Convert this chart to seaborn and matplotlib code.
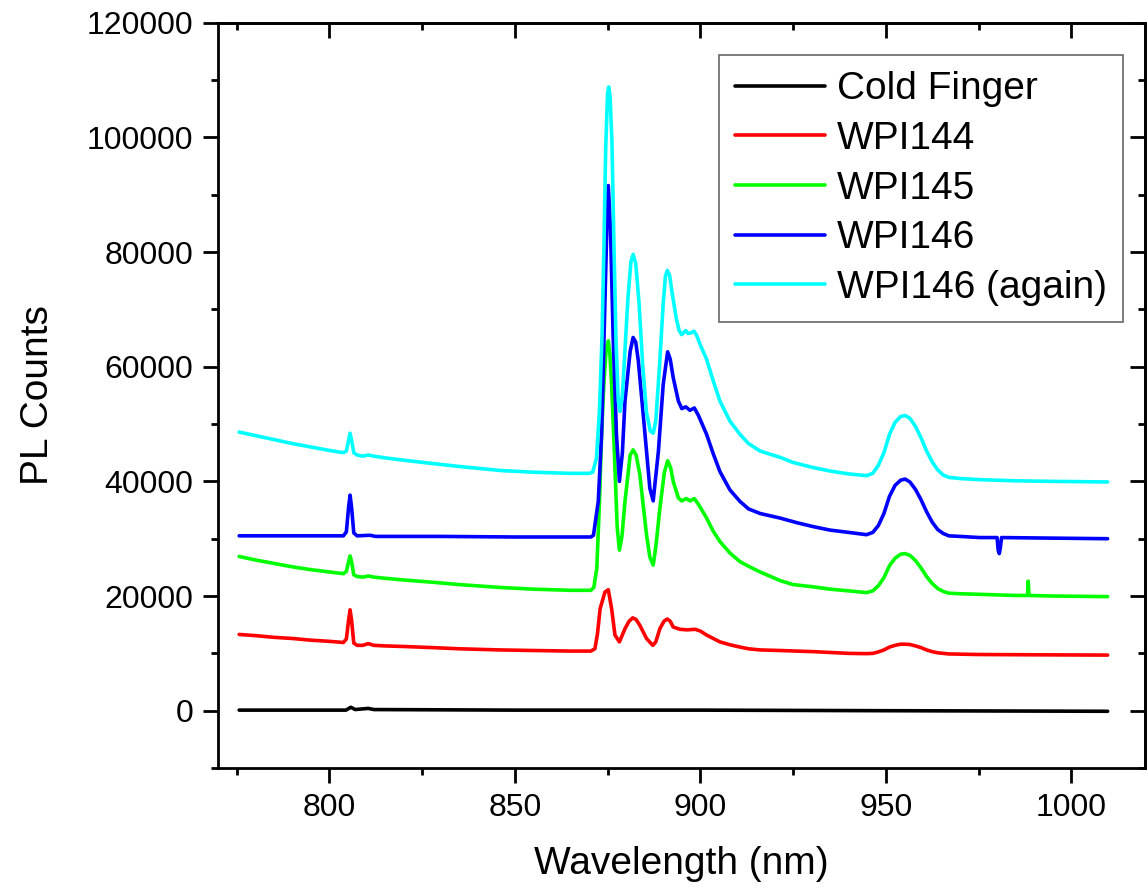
import matplotlib
matplotlib.use("Agg")
import matplotlib.pyplot as plt
from matplotlib.ticker import MultipleLocator, ScalarFormatter
import numpy as np
import pandas as pd
import seaborn as sns

# ---- spectra: wavelength (nm) and PL counts (thousands) per sample ----
cold_finger_nm = [775.7, 790, 804.5, 805.8, 807, 810.5, 812, 850, 900, 950, 1009.8]
cold_finger_k = [0.1, 0.1, 0.1, 0.6, 0.2, 0.4, 0.2, 0.1, 0.1, 0.0, -0.1]

wpi144_nm = [775.7, 780, 785, 790, 795, 800, 803.8, 804.6, 805.2, 805.6, 806.0, 806.6,
             807.5, 809, 810.5, 812, 815, 820, 828, 835, 846, 855, 865, 870.5, 871.6,
             872.3, 873.0, 874.3, 875.2, 876.1, 877.0, 878.2, 879.7, 880.8, 881.8,
             882.7, 883.7, 885.5, 887.2, 888.0, 889.1, 890.2, 891.1, 891.9, 892.7,
             894.5, 896.5, 898.6, 900.0, 901.7, 903.5, 905.3, 908, 910.7, 913, 916.1,
             921.5, 930.5, 940, 944.8, 946.5, 948, 949.5, 951, 952.5, 954, 955.2,
             956.5, 958, 959.5, 961, 962.5, 964, 965.5, 967, 975, 990, 1009.8]
wpi144_k = [13.3, 13.1, 12.8, 12.6, 12.3, 12.1, 11.9, 12.5, 15.8, 17.6, 15.8, 11.8,
            11.4, 11.4, 11.7, 11.4, 11.3, 11.2, 11.0, 10.8, 10.6, 10.5, 10.4, 10.4, 10.8,
            13.5, 17.8, 20.7, 21.1, 17.8, 13.2, 12.0, 14.3, 15.6, 16.2,
            15.9, 14.9, 12.6, 11.4, 12.0, 14.3, 15.6, 16.0, 15.6, 14.6,
            14.2, 14.1, 14.2, 13.9, 13.2, 12.6, 12.0, 11.5, 11.1, 10.8, 10.6,
            10.5, 10.3, 10.0, 9.95, 10.0, 10.25, 10.6, 11.1, 11.4, 11.6, 11.6,
            11.55, 11.3, 11.0, 10.6, 10.3, 10.1, 10.0, 9.9, 9.8, 9.75, 9.7]

wpi145_nm = [775.7, 780, 785, 790, 795, 800, 803.8, 804.6, 805.2, 805.6, 806.0, 806.6,
             807.5, 809, 810.5, 812, 815, 820, 828, 835, 846, 855, 865, 870.5, 871.3,
             872.1, 872.8, 873.4, 874.0, 874.6, 875.2, 875.6, 876.1, 876.6, 877.0,
             877.6, 878.2, 878.9, 879.7, 881.1, 881.9, 882.7, 883.7, 885.5, 886.4,
             887.3, 888.0, 889.1, 890.3, 891.2, 892.0, 892.7, 894.1, 895.0, 896.2,
             897.2, 898.4, 899.5, 901.7, 903.5, 905.3, 908, 910.7, 913, 916.1, 919,
             921.5, 925, 930.5, 935, 940, 944.8, 946.5, 948, 949.5, 951, 952.5, 954,
             955.2, 956.5, 958, 959.5, 961, 962.5, 964, 965.5, 967, 970, 975.3, 985,
             988.2, 988.4, 988.6, 995, 1009.8]
wpi145_k = [26.9, 26.3, 25.7, 25.1, 24.6, 24.2, 23.9, 24.3, 26.0, 27.0, 26.0, 23.7,
            23.4, 23.3, 23.5, 23.3, 23.1, 22.8, 22.4, 22.0, 21.5, 21.2, 21.0, 21.0, 21.5,
            24.8, 36.0, 48.2, 57.0, 62.7, 64.5, 62.5, 56.9, 49.0, 42.3,
            32.0, 28.0, 30.5, 36.5, 44.6, 45.5, 44.6, 41.2, 30.7, 26.8,
            25.4, 28.5, 35.3, 41.5, 43.6, 42.4, 40.0, 37.1, 36.6, 37.0,
            36.6, 37.0, 36.0, 33.6, 31.3, 29.5, 27.5, 26.0, 25.2, 24.2, 23.4,
            22.7, 22.0, 21.6, 21.2, 20.9, 20.6, 20.9, 21.8, 23.2, 25.3, 26.6, 27.3,
            27.4, 27.1, 26.2, 24.9, 23.4, 22.2, 21.3, 20.8, 20.5, 20.4, 20.3, 20.1,
            20.1, 22.6, 20.1, 20.0, 19.9]

wpi146_nm = [775.7, 790, 803.8, 804.6, 805.2, 805.6, 806.0, 806.6, 807.5, 811, 812.5,
             830, 850, 870.5, 871.2, 872.5, 873.4, 874.3, 874.8, 875.2, 875.8, 876.5,
             877.4, 878.2, 879.0, 879.7, 881.1, 881.9, 882.6, 883.3, 885.1, 886.4,
             887.3, 888.7, 890.0, 891.2, 891.9, 892.7, 894.1, 895.0, 896.1, 897.2,
             898.4, 899.5, 901.7, 903.5, 905.3, 908, 910.7, 913, 916.1, 921.5, 926,
             930.5, 935, 940, 944.8, 946.5, 948, 949.5, 951, 952.5, 954, 955.2, 956.5,
             958, 959.5, 961, 962.5, 964, 965.5, 967, 970, 975.3, 980.0, 980.3, 980.6,
             980.9, 981.2, 995, 1009.8]
wpi146_k = [30.5, 30.5, 30.5, 31.2, 35.5, 37.6, 35.5, 31.0, 30.5, 30.6, 30.4,
            30.4, 30.3, 30.3, 30.6, 36.5, 48.2, 71.5, 84.0, 91.6, 84.0, 65.5,
            48.2, 40.0, 45.0, 54.0, 62.7, 65.1, 64.3, 61.0, 48.2, 38.8,
            36.6, 45.2, 56.9, 62.6, 61.3, 58.1, 54.0, 52.7, 53.0, 52.4,
            52.8, 51.5, 48.2, 44.8, 41.7, 38.5, 36.5, 35.2, 34.4, 33.6, 32.8,
            32.1, 31.5, 31.1, 30.7, 31.1, 32.3, 34.4, 37.4, 39.3, 40.2, 40.4, 39.9,
            38.6, 36.8, 34.7, 32.9, 31.6, 30.9, 30.5, 30.4, 30.2, 30.2, 28.0, 27.4,
            28.5, 30.2, 30.1, 30.0]

wpi146b_nm = [775.7, 780, 785, 790, 795, 800, 803.8, 804.6, 805.2, 805.6, 806.0, 806.6,
              807.5, 809, 810.5, 812, 815, 820, 828, 835, 846, 855, 865, 870.0, 871.0,
              872.0, 872.8, 873.5, 874.0, 874.5, 875.0, 875.3, 875.7, 876.2, 876.7,
              877.3, 877.9, 878.4, 879.0, 879.7, 880.5, 881.3, 881.9, 882.6, 883.5,
              884.5, 885.5, 886.5, 887.3, 888.0, 889.0, 890.0, 890.6, 891.1, 891.7,
              892.5, 893.5, 894.3, 895.0, 895.6, 896.1, 896.7, 897.5, 898.3, 899.0,
              900.0, 901.7, 903.5, 905.3, 908, 910.7, 913, 916.1, 919, 921.5, 925,
              930.5, 935, 940, 944.8, 946.5, 948, 949.5, 951, 952.5, 954, 955.2, 956.5,
              958, 959.5, 961, 962.5, 964, 965.5, 967, 970, 975.3, 985, 995, 1009.8]
wpi146b_k = [48.6, 48.0, 47.3, 46.6, 46.0, 45.4, 45.0, 45.3, 47.2, 48.4, 47.2, 45.0,
             44.6, 44.4, 44.6, 44.4, 44.1, 43.7, 43.1, 42.6, 41.9, 41.6, 41.4, 41.4, 41.6,
             44.0, 52.0, 65.0, 80.0, 98.0, 107.5, 108.8, 107.0, 99.0, 82.0,
             64.0, 54.0, 52.2, 55.0, 63.0, 72.0, 78.3, 79.6, 78.0, 71.0,
             60.0, 52.0, 48.8, 48.4, 50.5, 60.0, 71.0, 75.8, 76.8, 76.0,
             72.5, 68.5, 66.3, 65.6, 66.0, 66.3, 65.8, 65.9, 66.2, 65.5,
             63.8, 61.3, 57.5, 54.0, 50.5, 48.2, 46.6, 45.3, 44.7, 44.2, 43.3,
             42.4, 41.8, 41.3, 41.0, 41.4, 42.8, 45.0, 48.2, 50.3, 51.3, 51.5, 51.0,
             49.6, 47.6, 45.3, 43.4, 42.0, 41.1, 40.7, 40.5, 40.3, 40.1, 40.0, 39.9]

sample_names = ["Cold Finger", "WPI144", "WPI145", "WPI146", "WPI146 (again)"]
sample_colors = ["#000000", "#FF0000", "#00FF00", "#0000FF", "#00FFFF"]

series = [
    (cold_finger_nm, cold_finger_k),
    (wpi144_nm, wpi144_k),
    (wpi145_nm, wpi145_k),
    (wpi146_nm, wpi146_k),
    (wpi146b_nm, wpi146b_k),
]

frames = []
for name, (nm, kcounts) in zip(sample_names, series):
    frames.append(pd.DataFrame({
        "Wavelength": nm,
        "Counts": np.asarray(kcounts) * 1000.0,
        "Sample": name,
    }))
spectra = pd.concat(frames, ignore_index=True)

sns.set_theme(style="ticks")
plt.rcParams["font.family"] = ["Liberation Sans", "DejaVu Sans"]
plt.rcParams["text.color"] = "black"
plt.rcParams["axes.labelcolor"] = "black"
plt.rcParams["xtick.color"] = "black"
plt.rcParams["ytick.color"] = "black"

fig = plt.figure(figsize=(11.48, 8.88), dpi=100)
ax = fig.add_axes([0.1899, 0.1351, 0.8079, 0.8393])

sns.lineplot(data=spectra, x="Wavelength", y="Counts", hue="Sample",
             hue_order=sample_names, palette=sample_colors,
             estimator=None, sort=True, linewidth=2.6, ax=ax)

ax.set_xlim(770, 1020)
ax.set_ylim(-10000, 120000)

ax.xaxis.set_major_locator(MultipleLocator(50))
ax.xaxis.set_minor_locator(MultipleLocator(25))
ax.yaxis.set_major_locator(MultipleLocator(20000))
ax.yaxis.set_minor_locator(MultipleLocator(10000))
fmt = ScalarFormatter(useOffset=False)
fmt.set_scientific(False)
ax.yaxis.set_major_formatter(fmt)

for side in ["left", "bottom", "top", "right"]:
    ax.spines[side].set_visible(True)
    ax.spines[side].set_linewidth(2.0)
    ax.spines[side].set_color("black")

ax.tick_params(axis="both", which="major", direction="out", length=10.8, width=2.0,
               labelsize=23, pad=7, color="black", labelcolor="black",
               top=False, right=False)
ax.tick_params(axis="both", which="minor", direction="out", length=5.0, width=2.0,
               color="black", top=False, right=False)

# mirrored inward ticks on the top and right frame edges
top = ax.secondary_xaxis("top")
top.xaxis.set_major_locator(MultipleLocator(50))
top.xaxis.set_minor_locator(MultipleLocator(25))
top.tick_params(which="major", direction="in", length=10.8, width=2.0, labeltop=False)
top.tick_params(which="minor", direction="in", length=5.0, width=2.0)
top.spines["top"].set_linewidth(2.0)

right = ax.secondary_yaxis("right")
right.yaxis.set_major_locator(MultipleLocator(20000))
right.yaxis.set_minor_locator(MultipleLocator(10000))
right.tick_params(which="major", direction="in", length=10.8, width=2.0, labelright=False)
right.tick_params(which="minor", direction="in", length=5.0, width=2.0)
right.spines["right"].set_linewidth(2.0)

ax.set_xlabel("Wavelength (nm)", fontsize=28, labelpad=17)
ax.set_ylabel("PL Counts", fontsize=28, labelpad=22)

handles, labels = ax.get_legend_handles_labels()
leg = ax.legend(handles, labels, loc="upper right", bbox_to_anchor=(0.9757, 0.9567),
                borderaxespad=0, fontsize=28, frameon=True, fancybox=False,
                handlelength=2.3, handletextpad=0.3, labelspacing=0.35,
                borderpad=0.42)
leg.get_frame().set_edgecolor("#404040")
leg.get_frame().set_linewidth(1.2)
for line in leg.get_lines():
    line.set_linewidth(2.6)

fig.savefig("out.png", dpi=100, facecolor="white")
